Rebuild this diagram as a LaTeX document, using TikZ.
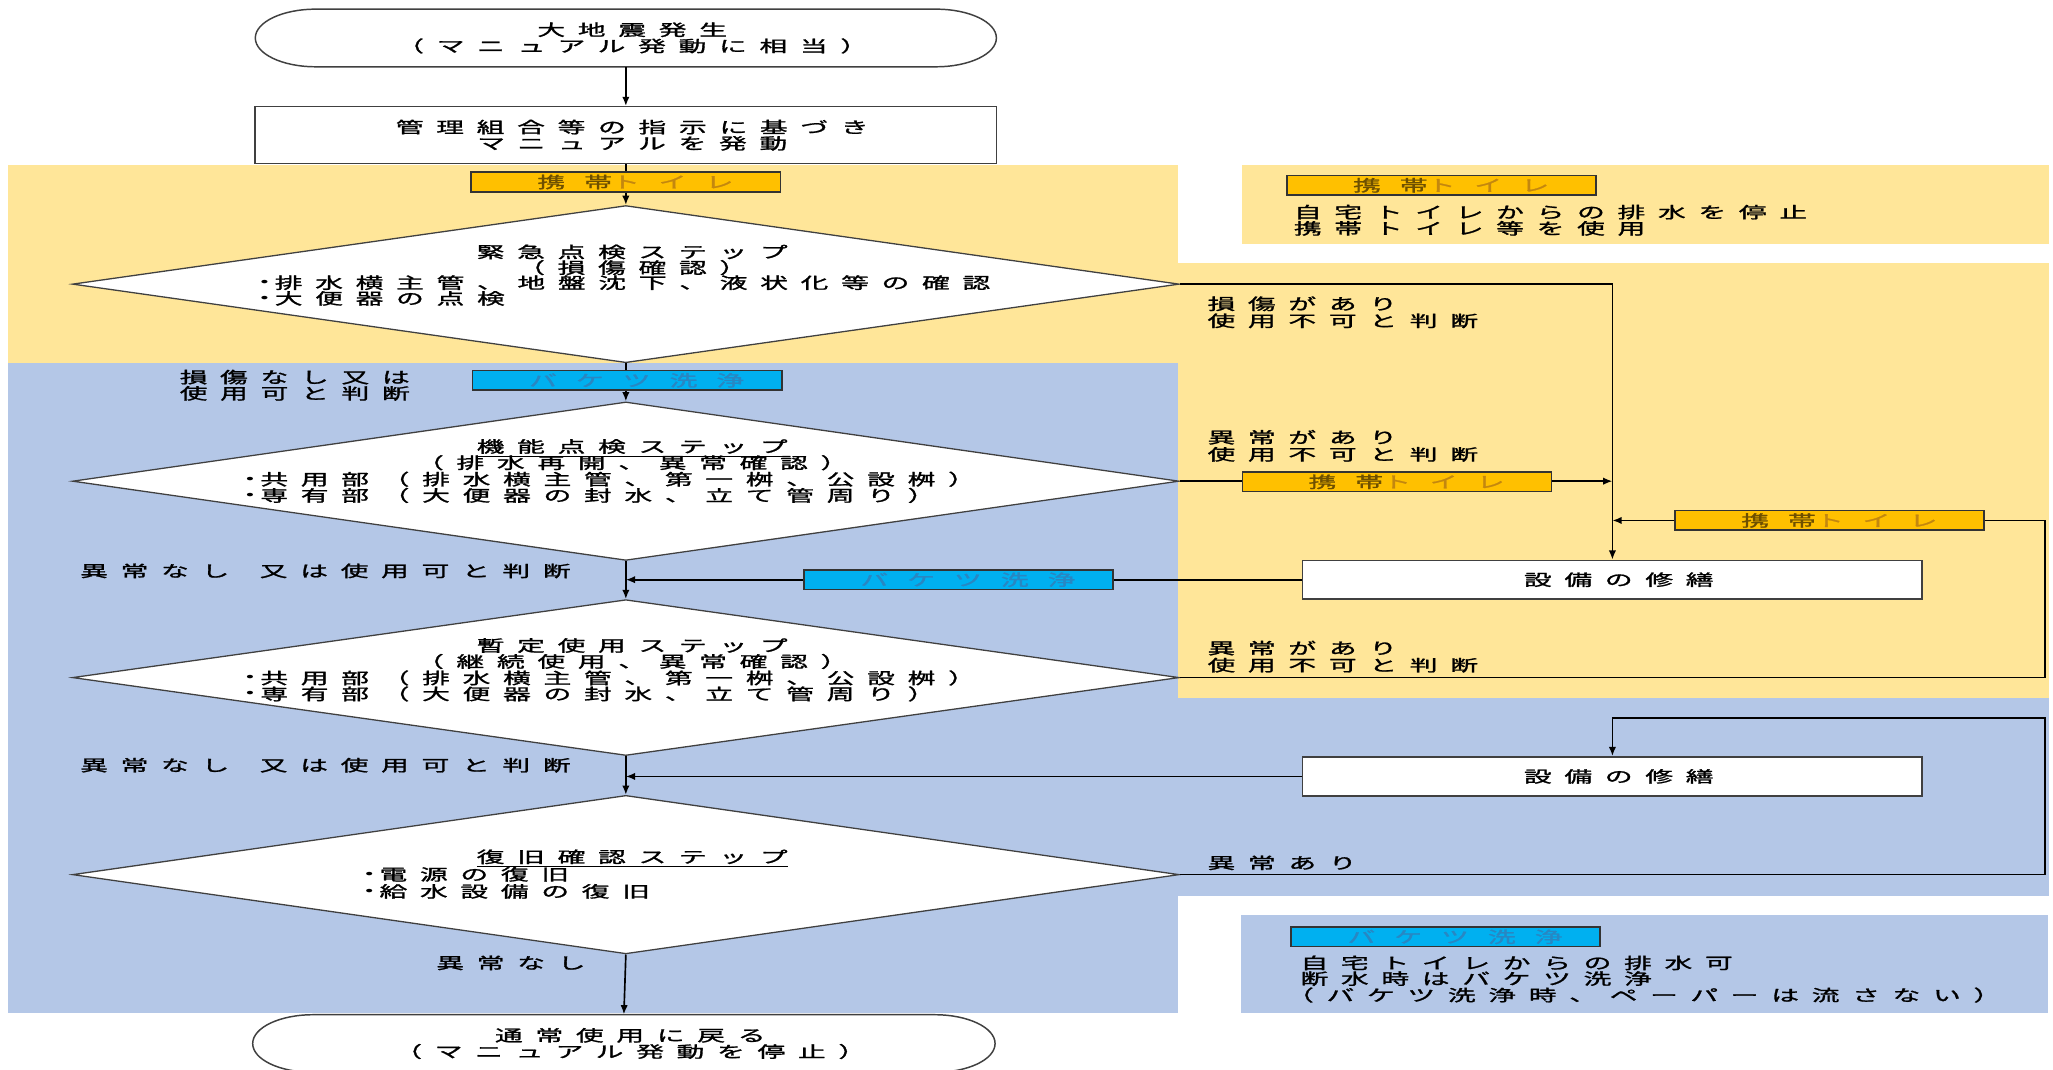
\documentclass[tikz,border=0pt]{standalone}
\usepackage{graphicx}
\usepackage{fontspec}
\setmainfont{Noto Sans CJK JP}[LetterSpace=46,FakeBold=1.2]
\newfontfamily\tagfont{Noto Sans CJK JP}[LetterSpace=69,FakeBold=1.2]
\newfontfamily\dvfont{DejaVu Sans}
\usetikzlibrary{shapes.geometric,arrows.meta,calc}
\definecolor{ybg}{RGB}{255,230,153}
\definecolor{bbg}{RGB}{180,199,231}
\definecolor{tagY}{RGB}{255,192,0}
\definecolor{tagB}{RGB}{0,176,240}
\definecolor{tagYd}{RGB}{110,80,0}
\definecolor{tagYl}{RGB}{195,135,15}
\definecolor{tagBt}{RGB}{40,135,195}
\definecolor{edge}{RGB}{64,64,64}
\newcommand\sx[1]{\scalebox{1.75}[1]{#1\kern-.46em}}
\newcommand\sxt[1]{\scalebox{1.75}[1]{#1\kern-.69em}}
\newcommand\bul{\raisebox{1.2pt}{\dvfont\fontsize{6.5pt}{6pt}\selectfont •}\kern.15em}
\newcommand\fs{\fontsize{8.6pt}{8.8pt}\selectfont}
\tikzset{
  conn/.style={draw=black, line width=0.9pt},
  arr/.style={conn, -{Latex[length=5pt,width=4pt]}},
  dia/.style={diamond, draw=edge, fill=white, line width=0.7pt, inner sep=0pt, minimum width=21.125cm},
  rbox/.style={rectangle, draw=edge, fill=white, line width=0.8pt, inner sep=0pt, align=center},
  termline/.style={draw=edge, fill=white, line width=0.8pt},
  termtext/.style={rectangle, inner sep=0pt, align=center, minimum width=14.15cm, minimum height=1.1cm},
  tagbase/.style={rectangle, draw=black!80, line width=0.9pt, inner sep=0pt, minimum width=5.9cm, minimum height=0.375cm, font=\tagfont\fs},
  tagy/.style={tagbase, fill=tagY},
  tagb/.style={tagbase, fill=tagB, text=tagBt},
  lbl/.style={anchor=base west, inner sep=0pt},
  ttl/.style={anchor=base, inner sep=0pt},
}
\begin{document}
\begin{tikzpicture}[x=0.025cm, y=-0.025cm, font=\fs]
\useasboundingbox (0,0) rectangle (1568,817);
\fill[white] (0,0) rectangle (1568,817);
% background zones
\fill[ybg] (6,126) rectangle (900,277);
\fill[ybg] (900,201) rectangle (1565,533);
\fill[ybg] (948.5,126) rectangle (1565,186);
\fill[bbg] (6,277) rectangle (900,774);
\fill[bbg] (900,533) rectangle (1565,684);
\fill[bbg] (948,699) rectangle (1564,774);

% terminals outlines
\path[termline] (241,7) -- (715,7) .. controls (740.4,7) and (761,16.85) .. (761,29) .. controls (761,41.15) and (740.4,51) .. (715,51) -- (241,51) .. controls (215.6,51) and (195,41.15) .. (195,29) .. controls (195,16.85) and (215.6,7) .. (241,7) -- cycle;
\path[termline] (239,775) -- (714,775) .. controls (739.4,775) and (760,784.85) .. (760,797) .. controls (760,809.15) and (739.4,819) .. (714,819) -- (239,819) .. controls (213.6,819) and (193,809.15) .. (193,797) .. controls (193,784.85) and (213.6,775) .. (239,775) -- cycle;

% nodes
\node[termtext] (start) at (478,29) {\sx{大地震発生}\\\sx{（マニュアル発動に相当）}};
\node[rbox, minimum width=14.15cm, minimum height=1.0875cm] (act) at (478,103.25) {\sx{管理組合等の指示に基づき}\\\sx{マニュアルを発動}};
\node[dia, minimum height=3cm] (d1) at (478,217) {};
\node[dia, minimum height=3.025cm] (d2) at (478,367.5) {};
\node[dia, minimum height=2.975cm] (d3) at (478,517.5) {};
\node[dia, minimum height=3.025cm] (d4) at (478,668) {};
\node[rbox, minimum width=11.825cm, minimum height=0.7375cm] (r1) at (1231.5,442.75) {\sx{設備の修繕}};
\node[rbox, minimum width=11.825cm, minimum height=0.75cm] (r2) at (1231.5,593) {\sx{設備の修繕}};
\node[termtext] (end) at (476.5,797) {\sx{通常使用に戻る}\\\sx{（マニュアル発動を停止）}};

% diamond texts
\node[ttl] (d1a) at (478,197) {\sx{緊急点検ステップ}};
\node[ttl] (d1b) at (478,209) {\sx{（損傷確認）}};
\node[lbl] (d1c) at (197,220.5) {\sx{\bul 排水横主管、地盤沈下、液状化等の確認}};
\node[lbl] (d1d) at (197,232.5) {\sx{\bul 大便器の点検}};

\node[ttl] (d2a) at (478,345.6) {\sx{\underline{機能点検ステップ}}};
\node[ttl] (d2b) at (478,358) {\sx{（排水再開、異常確認）}};
\node[lbl] (d2c) at (186,370.6) {\sx{\bul 共用部（排水横主管、第一桝、公設桝）}};
\node[lbl] (d2d) at (186,383) {\sx{\bul 専有部（大便器の封水、立て管周り）}};

\node[ttl] (d3a) at (478,497.6) {\sx{暫定使用ステップ}};
\node[ttl] (d3b) at (478,509.8) {\sx{（継続使用、異常確認）}};
\node[lbl] (d3c) at (186,522.4) {\sx{\bul 共用部（排水横主管、第一桝、公設桝）}};
\node[lbl] (d3d) at (186,534.6) {\sx{\bul 専有部（大便器の封水、立て管周り）}};

\node[ttl] (d4a) at (478,659) {\sx{\underline{復旧確認ステップ}}};
\node[lbl] (d4b) at (277,672.4) {\sx{\bul 電源の復旧}};
\node[lbl] (d4c) at (277,685.4) {\sx{\bul 給水設備の復旧}};

% labels
\node[lbl] (l1a) at (922,236.6) {\sx{損傷があり}};
\node[lbl] (l1b) at (922,249.6) {\sx{使用不可と判断}};
\node[lbl] (l2a) at (922,338.6) {\sx{異常があり}};
\node[lbl] (l2b) at (922,351.6) {\sx{使用不可と判断}};
\node[lbl] (l3a) at (922,499.6) {\sx{異常があり}};
\node[lbl] (l3b) at (922,512.6) {\sx{使用不可と判断}};
\node[lbl] (l4a) at (922,663.6) {\sx{異常あり}};
\node[lbl] (l5a) at (137,292.6) {\sx{損傷なし又は}};
\node[lbl] (l5b) at (137,305) {\sx{使用可と判断}};
\node[lbl] (l6a) at (61,440.6) {\sx{異常なし\kern1.1em 又は使用可と判断}};
\node[lbl] (l7a) at (61,589) {\sx{異常なし\kern1.1em 又は使用可と判断}};
\node[lbl] (l8a) at (333,740) {\sx{異常なし}};

% legends
\node[lbl] (g1a) at (988,166.6) {\sx{自宅トイレからの排水を停止}};
\node[lbl] (g1b) at (988,179) {\sx{携帯トイレ等を使用}};
\node[lbl] (g2a) at (993,740) {\sx{自宅トイレからの排水可}};
\node[lbl] (g2b) at (993,752) {\sx{断水時はバケツ洗浄}};
\node[lbl] (g2c) at (982,764.6) {\sx{（バケツ洗浄時、ペーパーは流さない）}};

% connectors
\coordinate (cR1) at (1562,397.5);
\coordinate (cR2) at (1562,548.5);
\draw[arr] (start.south) -- (act.north);
\draw[arr] (act.south) -- (d1.north);
\draw[arr] (d1.south) -- (d2.north);
\draw[arr] (d2.south) -- (d3.north);
\draw[arr] (d3.south) -- (d4.north);
\draw[arr] (d4.south) -- (end.north);
\draw[arr] (d1.east) -| (r1.north);
\draw[arr] (d2.east) -- (d2.east -| r1.north);
\draw[arr] (d3.east) -| (cR1) -- (cR1 -| r1.north);
\draw[arr] (r1.west) -- (r1.west -| d2.south);
\draw[arr] (d4.east) -| (cR2) -| (r2.north);
\draw[arr] (r2.west) -- (r2.west -| d3.south);

% tags
\node[tagy] (tg1) at (478,139) {\sxt{{\color{tagYd}携帯}{\color{tagYl}トイレ}}};
\node[tagb] (tg2) at (479,290.5) {\sxt{バケツ洗浄}};
\node[tagy] (tg3) at (1067,368) {\sxt{{\color{tagYd}携帯}{\color{tagYl}トイレ}}};
\node[tagy] (tg4) at (1397.5,397.5) {\sxt{{\color{tagYd}携帯}{\color{tagYl}トイレ}}};
\node[tagb] (tg5) at (732,442.75) {\sxt{バケツ洗浄}};
\node[tagy] (tg6) at (1101,141.5) {\sxt{{\color{tagYd}携帯}{\color{tagYl}トイレ}}};
\node[tagb] (tg7) at (1104,715.5) {\sxt{バケツ洗浄}};
\end{tikzpicture}
\end{document}
